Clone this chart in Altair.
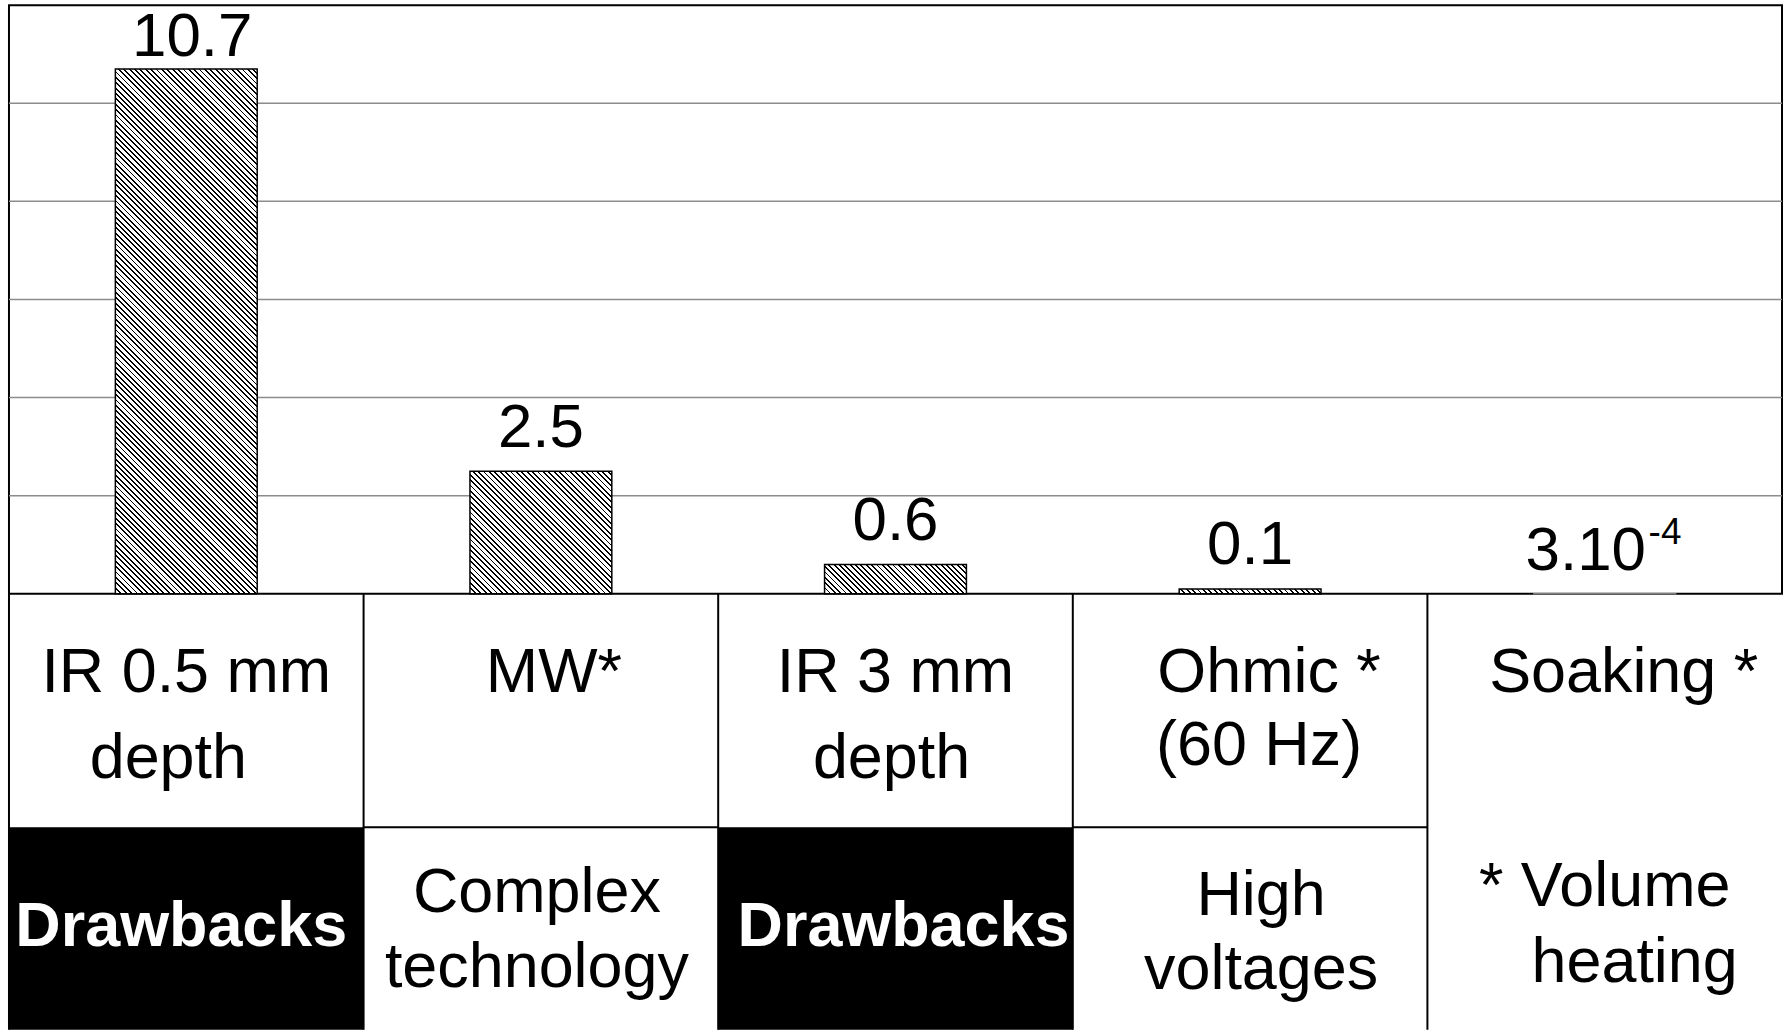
import altair as alt
import pandas as pd

# ---------------- data ----------------
categories = ["IR 0.5 mm depth", "MW", "IR 3 mm depth", "Ohmic (60 Hz)", "Soaking"]
values = [10.7, 2.5, 0.6, 0.1, 0.0003]
value_labels = ["10.7", "2.5", "0.6", "0.1", "3.10"]
value_exponents = ["", "", "", "", "-4"]
y_max = 12
grid_values = [2, 4, 6, 8, 10]

name_line1 = ["IR 0.5 mm", "MW*", "IR 3 mm", "Ohmic *", "Soaking *"]
name_line2 = ["depth", "", "depth", "(60 Hz)", ""]
drawback_banner = ["Drawbacks", "", "Drawbacks", "", ""]
drawback_line1 = ["", "Complex", "", "High", "* Volume"]
drawback_line2 = ["", "technology", "", "voltages", "heating"]
row_separator = [False, True, False, True, False]

# ---------------- layout / style ----------------
FONT = "Liberation Sans"
PLOT_W, PLOT_H, TABLE_H = 1777, 590, 437
PAD_INNER = 0.6
step = PLOT_W / len(categories)
bar_w = step * (1 - PAD_INNER)
HATCH_PERIOD = 3.8
HATCH_INK = 0.34

label_dx = [6, 0, 0, 0, -19]
label_dy = [-13, -24, -24, -25, -24]
bar_stroke = ["black", "black", "black", "black", "#7f7f7f"]

line_y = {"name1": 98, "name2": 185, "banner": 353, "dline1": 320, "dline2": 395}
nudges = {
    ("name1", 1): (13, 0), ("name1", 3): (19, 0), ("name1", 4): (19, 0),
    ("name2", 0): (-18, 0), ("name2", 2): (-4, 0), ("name2", 3): (9, -13),
    ("banner", 0): (-5, 0), ("banner", 2): (8, 0),
    ("dline1", 1): (-4, -1), ("dline1", 3): (11, 2), ("dline1", 4): (0, -7),
    ("dline2", 1): (-4, -1), ("dline2", 3): (11, 1), ("dline2", 4): (30, -6),
}


def hatch(h):
    w = bar_w
    s = (w + h) / (w * w + h * h)
    n = max(1, round((w + h) / (2 ** 0.5 * HATCH_PERIOD)))
    stops = []
    for i in range(n):
        a, b, c = i / n, (i + HATCH_INK) / n, (i + 1) / n
        stops += [
            alt.GradientStop(color="black", offset=a),
            alt.GradientStop(color="black", offset=b),
            alt.GradientStop(color="white", offset=b),
            alt.GradientStop(color="white", offset=c),
        ]
    return alt.LinearGradient(gradient="linear", stops=stops,
                              x1=0, y1=1, x2=s * w, y2=1 - s * h)


# ---------------- top: bar chart ----------------
bars_df = pd.DataFrame({"cat": categories, "value": values,
                        "label": value_labels, "exp": value_exponents})
xs_top = alt.Scale(domain=categories, paddingInner=PAD_INNER, paddingOuter=PAD_INNER / 2)
ys = alt.Scale(domain=[0, y_max], nice=False, zero=True)
X = alt.X("cat:N", scale=xs_top, axis=None)
Y = alt.Y("value:Q", scale=ys, axis=None)

layers = [
    alt.Chart(pd.DataFrame({"g": grid_values}))
    .mark_rule(color="#8c8c8c", strokeWidth=1.5)
    .encode(y=alt.Y("g:Q", scale=ys, axis=None))
]
for i, c in enumerate(categories):
    h = values[i] / y_max * PLOT_H
    base = alt.Chart(bars_df).transform_filter(alt.datum.cat == c)
    layers.append(
        base.mark_bar(fill=hatch(h), stroke=bar_stroke[i], strokeWidth=1.5)
        .encode(x=X, y=Y)
    )
    layers.append(
        base.mark_text(font=FONT, fontSize=62, baseline="alphabetic",
                       dx=label_dx[i], dy=label_dy[i], color="black")
        .encode(x=X, y=Y, text="label:N")
    )
    if value_exponents[i]:
        layers.append(
            base.mark_text(font=FONT, fontSize=37, baseline="alphabetic", align="left",
                           dx=44, dy=label_dy[i] - 26, color="black")
            .encode(x=X, y=Y, text="exp:N")
        )

top = alt.layer(*layers).properties(width=PLOT_W, height=PLOT_H)

# ---------------- bottom: table ----------------
tab_df = pd.DataFrame({
    "cat": categories,
    "name1": name_line1, "name2": name_line2,
    "banner": drawback_banner,
    "dline1": drawback_line1, "dline2": drawback_line2,
    "sep": row_separator,
})
xs_tab = alt.Scale(domain=categories, paddingInner=0, paddingOuter=0)
XT = alt.X("cat:N", scale=xs_tab, axis=None)

tlayers = [
    alt.Chart(tab_df).transform_filter(alt.datum.banner != "")
    .mark_rect(color="black")
    .encode(x=XT, y=alt.value(234), y2=alt.value(TABLE_H)),
    alt.Chart(tab_df).transform_filter(alt.datum.sep)
    .mark_rect(color="black")
    .encode(x=XT, y=alt.value(233), y2=alt.value(235)),
    alt.Chart(tab_df).mark_rule(color="black", strokeWidth=2)
    .encode(x=alt.X("cat:N", scale=xs_tab, axis=None, bandPosition=0),
            y=alt.value(0), y2=alt.value(TABLE_H)),
]

fields = {"name1": name_line1, "name2": name_line2, "banner": drawback_banner,
          "dline1": drawback_line1, "dline2": drawback_line2}
for f, arr in fields.items():
    for i, c in enumerate(categories):
        if not arr[i]:
            continue
        dx, dy = nudges.get((f, i), (0, 0))
        bold = f == "banner"
        tlayers.append(
            alt.Chart(tab_df).transform_filter(alt.datum.cat == c)
            .mark_text(font=FONT, fontSize=63, align="center", baseline="alphabetic",
                       fontWeight="bold" if bold else "normal",
                       color="white" if bold else "black", dx=dx)
            .encode(x=XT, y=alt.value(line_y[f] + dy), text=alt.Text(f + ":N"))
        )

table = alt.layer(*tlayers).properties(
    width=PLOT_W, height=TABLE_H, view=alt.ViewBackground(stroke="transparent"))

chart = (
    alt.vconcat(top, table, spacing=0, bounds="flush")
    .resolve_scale(x="independent")
    .properties(padding={"left": 7, "top": 3, "right": 3, "bottom": 0}, background="white")
    .configure_view(stroke="black", strokeWidth=2)
)

chart.save("out.html", embed_options={"renderer": "svg", "actions": False})
